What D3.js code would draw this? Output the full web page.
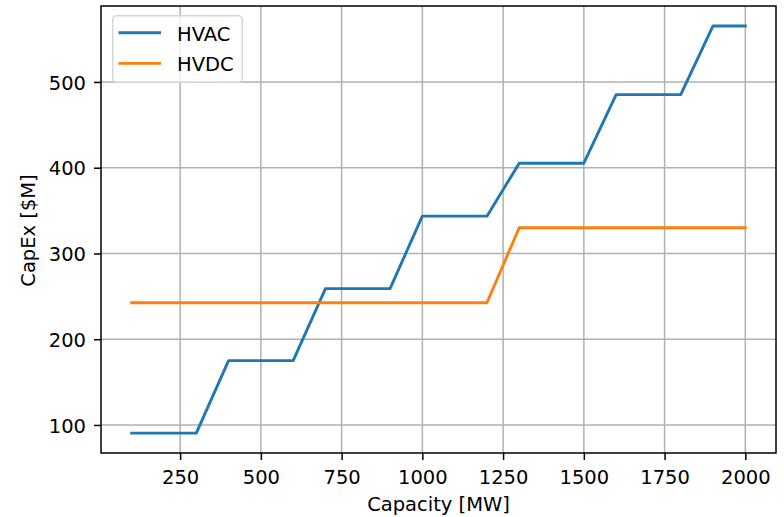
<!DOCTYPE html>
<html>
<head>
<meta charset="utf-8">
<script src="https://cdn.jsdelivr.net/npm/d3@7"></script>
<style>
  html, body { margin: 0; padding: 0; background: #fff; }
  svg { display: block; font-family: "DejaVu Sans", sans-serif; }
</style>
</head>
<body>
<svg id="chart" width="784" height="517"></svg>
<script>
const capacity = [100, 200, 300, 400, 500, 600, 700, 800, 900, 1000, 1100, 1200, 1300, 1400, 1500, 1600, 1700, 1800, 1900, 2000];
const hvac = [90.5, 90.5, 90.5, 175, 175, 175, 259, 259, 259, 343.5, 343.5, 343.5, 405.3, 405.3, 405.3, 485.2, 485.2, 485.2, 565.3, 565.3];
const hvdc = [242.5, 242.5, 242.5, 242.5, 242.5, 242.5, 242.5, 242.5, 242.5, 242.5, 242.5, 242.5, 330, 330, 330, 330, 330, 330, 330, 330];
const seriesNames = ["HVAC", "HVDC"];
const seriesColors = ["#1f77b4", "#ff7f0e"];
const xTicks = [250, 500, 750, 1000, 1250, 1500, 1750, 2000];
const yTicks = [100, 200, 300, 400, 500];

const FS = "19.5px";
const svg = d3.select("#chart");
const L = 101, R = 776, T = 6, B = 453;

const x = d3.scaleLinear().domain([5, 2095]).range([L, R]);
const y = d3.scaleLinear().domain([67.3, 588.6]).range([B, T]);

// grid
const g = svg.append("g");
g.selectAll(".vg").data(xTicks).enter().append("line")
  .attr("x1", d => x(d)).attr("x2", d => x(d)).attr("y1", T).attr("y2", B)
  .attr("stroke", "#b0b0b0").attr("stroke-width", 1.5);
g.selectAll(".hg").data(yTicks).enter().append("line")
  .attr("x1", L).attr("x2", R).attr("y1", d => y(d)).attr("y2", d => y(d))
  .attr("stroke", "#b0b0b0").attr("stroke-width", 1.5);

// lines
const series = [hvac, hvdc];
const line = d3.line().x((d, i) => x(capacity[i])).y(d => y(d));
series.forEach((s, k) => {
  svg.append("path").datum(s).attr("d", line)
    .attr("fill", "none").attr("stroke", seriesColors[k])
    .attr("stroke-width", 2.9).attr("stroke-linejoin", "round").attr("stroke-linecap", "square");
});

// axes
const xAxis = d3.axisBottom(x).tickValues(xTicks).tickFormat(d3.format("d")).tickSize(7).tickPadding(10);
const yAxis = d3.axisLeft(y).tickValues(yTicks).tickFormat(d3.format("d")).tickSize(7).tickPadding(8);
const gx = svg.append("g").attr("transform", `translate(0,${B})`).call(xAxis);
const gy = svg.append("g").attr("transform", `translate(${L},0)`).call(yAxis);
[gx, gy].forEach(a => {
  a.select(".domain").remove();
  a.selectAll(".tick line").attr("stroke", "#000").attr("stroke-width", 1.5);
  a.selectAll(".tick text").attr("fill", "#000").style("font-size", FS).style("font-family", "DejaVu Sans");
});
gy.selectAll(".tick text").attr("dy", "0.37em");

// frame
svg.append("rect").attr("x", L).attr("y", T).attr("width", R - L).attr("height", B - T)
  .attr("fill", "none").attr("stroke", "#000").attr("stroke-width", 1.5);

// axis labels
svg.append("text").attr("x", (L + R) / 2).attr("y", 511).attr("text-anchor", "middle")
  .style("font-size", FS).text("Capacity [MW]");
svg.append("text").attr("transform", `translate(35,${(T + B) / 2 + 1}) rotate(-90)`)
  .attr("text-anchor", "middle").style("font-size", FS).text("CapEx [$M]");

// legend
const lg = svg.append("g");
lg.append("rect").attr("x", 112.7).attr("y", 15.7).attr("width", 129.6).attr("height", 66.6).attr("rx", 4)
  .attr("fill", "#fff").attr("fill-opacity", 0.8).attr("stroke", "#d5d5d5").attr("stroke-width", 1.5);
seriesNames.forEach((n, k) => {
  const yy = 32.8 + k * 30.6;
  lg.append("line").attr("x1", 118.5).attr("x2", 161).attr("y1", yy).attr("y2", yy)
    .attr("stroke", seriesColors[k]).attr("stroke-width", 2.9);
  lg.append("text").attr("x", 177).attr("y", yy + 7.9).style("font-size", FS).text(n);
});
</script>
</body>
</html>
